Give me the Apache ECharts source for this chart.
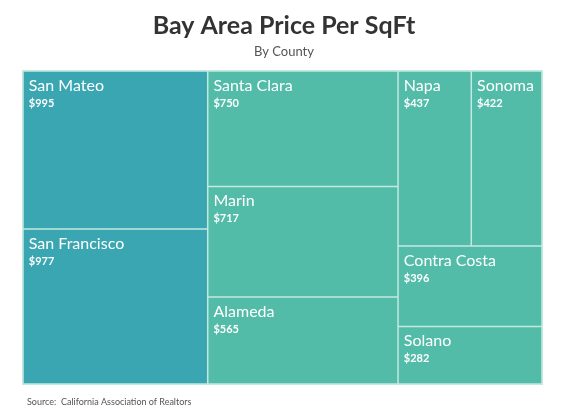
<!DOCTYPE html>
<html>
<head>
<meta charset="utf-8">
<script src="https://cdn.jsdelivr.net/npm/echarts@6/dist/echarts.min.js"></script>
<style>
html, body { margin: 0; padding: 0; background: #fff; }
#chart { width: 568px; height: 414px; }
</style>
</head>
<body>
<div id="chart"></div>
<script>
// county price per sqft
var counties = ['San Mateo', 'San Francisco', 'Santa Clara', 'Marin', 'Alameda', 'Napa', 'Sonoma', 'Contra Costa', 'Solano'];
var prices = [995, 977, 750, 717, 565, 437, 422, 396, 282];

var font = '"Liberation Sans Narrow", Lato, "Noto Sans", sans-serif';
var darkTeal = '#3aa6b1';
var lightTeal = '#53bca8';

var chart = echarts.init(document.getElementById('chart'));

var data = [];
counties.forEach(function (c, i) {
    data.push({
        name: c,
        value: prices[i],
        itemStyle: { color: prices[i] > 900 ? darkTeal : lightTeal }
    });
});

var option = {
    animation: false,
    title: [{
        text: 'Bay Area Price Per SqFt',
        left: 'center',
        top: 8,
        textStyle: { fontFamily: font, fontSize: 25, fontWeight: 'bold', color: '#333' }
    }, {
        text: 'By County',
        left: 'center',
        top: 40,
        textStyle: { fontFamily: font, fontSize: 13, fontWeight: 'normal', color: '#555' }
    }, {
        text: 'Source:  California Association of Realtors',
        left: 22,
        top: 393,
        textStyle: { fontFamily: font, fontSize: 9, fontWeight: 'normal', color: '#555' }
    }],
    series: [{
        type: 'treemap',
        left: 22,
        top: 70,
        width: 521,
        height: 315,
        roam: false,
        nodeClick: false,
        breadcrumb: { show: false },
        levels: [{
            itemStyle: { borderColor: '#c3e9e0', borderWidth: 1, gapWidth: 0 }
        }, {
            itemStyle: { borderColor: '#c3e9e0', borderWidth: 0.75, gapWidth: 0 }
        }],
        label: {
            show: true,
            position: 'insideTopLeft',
            distance: 0,
            padding: [4, 0, 0, 5],
            overflow: 'none',
            fontFamily: font,
            formatter: function (p) {
                return '{name|' + p.name + '}\n{val|$' + p.value + '}';
            },
            rich: {
                name: { fontFamily: font, fontSize: 16, color: '#fff', lineHeight: 20 },
                val: { fontFamily: font, fontSize: 11, fontWeight: 'bold', color: '#fff', lineHeight: 15 }
            }
        },
        data: data
    }]
};
chart.setOption(option);
</script>
</body>
</html>
